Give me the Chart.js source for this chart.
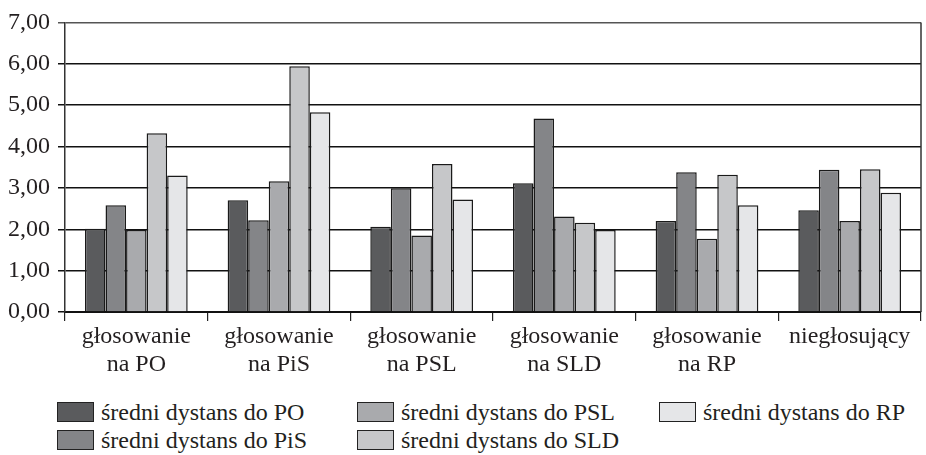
<!DOCTYPE html>
<html>
<head>
<meta charset="utf-8">
<script src="https://cdn.jsdelivr.net/npm/chart.js@4/dist/chart.umd.min.js"></script>
<style>
  html, body { margin: 0; padding: 0; background: #fff; }
  #wrap { position: relative; width: 926px; height: 455px; }
  #chart { position: absolute; left: 0; top: 0; }
  #legend { position: absolute; left: 57px; top: 400px; font-family: "Liberation Serif", "Times New Roman", Times, "DejaVu Serif", serif; font-size: 24px; line-height: 24px; color: #231f20; }
  .item { position: absolute; display: flex; align-items: center; white-space: nowrap; }
  .box { width: 35px; height: 18px; border: 1px solid #222; margin-right: 7px; }
</style>
</head>
<body>
<div id="wrap">
  <canvas id="chart" width="926" height="385"></canvas>
  <div id="legend"></div>
</div>
<script>
// data
const categories = [
  ['głosowanie', 'na PO'],
  ['głosowanie', 'na PiS'],
  ['głosowanie', 'na PSL'],
  ['głosowanie', 'na SLD'],
  ['głosowanie', 'na RP'],
  'niegłosujący'
];
const seriesNames = [
  'średni dystans do PO',
  'średni dystans do PiS',
  'średni dystans do PSL',
  'średni dystans do SLD',
  'średni dystans do RP'
];
const distPO  = [2.01, 2.70, 2.06, 3.11, 2.20, 2.46];
const distPiS = [2.58, 2.22, 2.99, 4.68, 3.38, 3.44];
const distPSL = [1.98, 3.16, 1.85, 2.31, 1.77, 2.20];
const distSLD = [4.32, 5.94, 3.58, 2.16, 3.32, 3.45];
const distRP  = [3.30, 4.83, 2.72, 1.98, 2.58, 2.88];
const yTicks = [0, 1, 2, 3, 4, 5, 6, 7];

const colors = ['#5a5b5d', '#848588', '#a9aaad', '#c6c7c9', '#e5e6e8'];
const FONT = '"Liberation Serif", "Times New Roman", Times, "DejaVu Serif", serif';
const INK = '#231f20';

const seriesValues = [distPO, distPiS, distPSL, distSLD, distRP];
const datasets = seriesNames.map((name, i) => ({
  label: name,
  data: seriesValues[i],
  backgroundColor: colors[i],
  borderColor: '#1a1a1a',
  borderWidth: 1.5,
  categoryPercentage: 0.72,
  barPercentage: 1.0
}));

// right edge of the plot frame
const frame = {
  id: 'frame',
  afterDraw(chart) {
    const a = chart.chartArea, c = chart.ctx;
    c.save();
    c.strokeStyle = '#333';
    c.lineWidth = 1.5;
    c.beginPath();
    c.moveTo(a.right, a.top);
    c.lineTo(a.right, a.bottom);
    c.stroke();
    c.restore();
  }
};

new Chart(document.getElementById('chart'), {
  type: 'bar',
  data: { labels: categories, datasets: datasets },
  options: {
    responsive: false,
    animation: false,
    layout: { padding: { top: 15, right: 5, left: 0, bottom: 0 } },
    plugins: { legend: { display: false }, tooltip: { enabled: false } },
    scales: {
      x: {
        afterFit: (s) => { s.height = 73; },
        grid: { offset: true, drawOnChartArea: false, drawTicks: true, tickLength: 9, color: '#222', lineWidth: 1.2 },
        border: { color: '#111', width: 2 },
        ticks: { color: INK, font: { family: FONT, size: 24, lineHeight: 1.15 }, padding: 2, maxRotation: 0, autoSkip: false }
      },
      y: {
        min: 0,
        max: 7,
        afterFit: (s) => { s.width = 65; },
        afterBuildTicks: (s) => { s.ticks = yTicks.map(v => ({ value: v })); },
        grid: { color: (ctx) => ctx.tick && ctx.tick.value === 7 ? '#555' : '#111', lineWidth: 1.5, tickLength: 7 },
        border: { color: '#333', width: 1.5 },
        ticks: {
          color: INK,
          font: { family: FONT, size: 24 },
          padding: 8,
          callback: (v) => v.toFixed(2).replace('.', ',')
        }
      }
    }
  },
  plugins: [frame]
});

// legend laid out in columns like the original
const legendEl = document.getElementById('legend');
const colX = [0, 300, 602];
const rowY = [0, 28];
seriesNames.forEach((name, i) => {
  const col = Math.floor(i / 2), row = i % 2;
  const item = document.createElement('div');
  item.className = 'item';
  item.style.left = colX[col] + 'px';
  item.style.top = rowY[row] + 'px';
  item.innerHTML = '<span class="box" style="background:' + colors[i] + '"></span>' + name;
  legendEl.appendChild(item);
});
</script>
</body>
</html>
